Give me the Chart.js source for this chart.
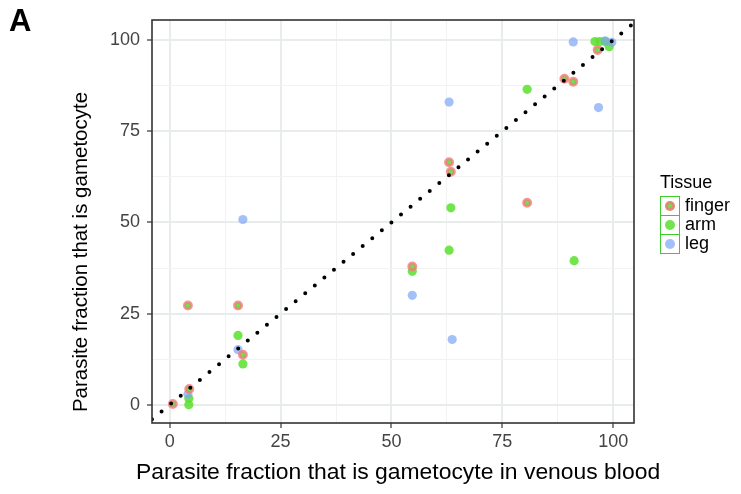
<!DOCTYPE html>
<html>
<head>
<meta charset="utf-8">
<script src="https://cdn.jsdelivr.net/npm/chart.js@4.4.1/dist/chart.umd.min.js"></script>
<style>
  body { margin: 0; background: #fff; }
  #wrap { position: relative; width: 741px; height: 494px; font-family: 'Liberation Sans', Arial, sans-serif; }
  #panel { position: absolute; left: 9px; top: 3px; font-weight: bold; font-size: 31px; }
  #legend { position: absolute; left: 660px; top: 172px; font-size: 18px; color: #000; }
  #legend .row { display: flex; align-items: center; height: 19px; }
  #legend .key { width: 18px; height: 18px; border: 1px solid #3ccc2c; margin-right: 5px; position: relative; }
  #legend .dot { position: absolute; left: 4px; top: 4px; width: 10px; height: 10px; border-radius: 50%; box-sizing: border-box; }
</style>
</head>
<body>
<div id="wrap">
  <canvas id="c" width="741" height="494"></canvas>
  <div id="panel">A</div>
  <div id="legend">
    <div style="margin-bottom:3px">Tissue</div>
    <div class="row"><div class="key"><div class="dot" style="background:#6fe14a;border:3px solid rgba(246,120,125,0.8)"></div></div>finger</div>
    <div class="row"><div class="key"><div class="dot" style="background:rgba(90,225,45,0.85)"></div></div>arm</div>
    <div class="row"><div class="key"><div class="dot" style="background:rgba(125,165,245,0.7)"></div></div>leg</div>
  </div>
</div>
<script>
// venous fraction (x) vs tissue fraction (y)
const fingerX = [0.7, 4.1, 4.4, 15.4, 16.5, 54.7, 63.0, 63.4, 80.6, 89.0, 91.0, 96.5];
const fingerY = [0.2, 27.2, 4.3, 27.2, 13.7, 37.9, 66.5, 63.9, 55.4, 89.4, 88.6, 97.3];

const armX = [4.3, 4.3, 15.4, 16.5, 54.7, 63.0, 63.4, 80.6, 91.2, 95.9, 97.0, 98.2, 99.1];
const armY = [1.7, 0.0, 19.0, 11.2, 36.6, 42.4, 54.0, 86.5, 39.5, 99.6, 99.6, 99.6, 98.2];

const legX = [4.1, 15.4, 16.5, 54.7, 63.0, 63.7, 91.0, 96.7, 98.2, 99.7];
const legY = [2.9, 15.1, 50.8, 30.0, 83.0, 17.9, 99.5, 81.5, 99.8, 99.4];

const tickValues = [0, 25, 50, 75, 100];
const identity = [-4, 110];

const xTitle = 'Parasite fraction that is gametocyte in venous blood';
const yTitle = 'Parasite fraction that is gametocyte';

const toPoints = (xs, ys) => xs.map((x, i) => ({ x, y: ys[i] }));
const isMajor = v => tickValues.includes(v);

const gridOpts = {
  color: ctx => isMajor(ctx.tick.value) ? '#e8ecec' : '#f1f3f3',
  lineWidth: ctx => isMajor(ctx.tick.value) ? 2 : 1,
  tickColor: ctx => isMajor(ctx.tick.value) ? '#333' : 'rgba(0,0,0,0)',
  tickLength: 5,
  tickWidth: 1.2
};
const tickFont = { family: "'Liberation Sans', Arial, sans-serif", size: 18 };

// full panel border + axis titles placed like the original
const panelExtras = {
  id: 'panelExtras',
  afterDraw(chart) {
    const { ctx, chartArea: a } = chart;
    ctx.save();
    ctx.strokeStyle = '#333';
    ctx.lineWidth = 1.6;
    ctx.strokeRect(a.left, a.top, a.right - a.left, a.bottom - a.top);

    ctx.fillStyle = '#000';
    ctx.textAlign = 'center';
    ctx.textBaseline = 'middle';
    ctx.font = "22.9px 'Liberation Sans', Arial, sans-serif";
    ctx.fillText(xTitle, 398, 473);

    ctx.font = "20.5px 'Liberation Sans', Arial, sans-serif";
    ctx.translate(81, 252);
    ctx.rotate(-Math.PI / 2);
    ctx.fillText(yTitle, 0, 0);
    ctx.restore();
  }
};

new Chart(document.getElementById('c'), {
  type: 'scatter',
  data: {
    datasets: [
      {
        type: 'line',
        data: identity.map(v => ({ x: v, y: v })),
        borderColor: '#000',
        borderWidth: 4,
        borderDash: [0, 12.4],
        borderCapStyle: 'round',
        pointRadius: 0,
        fill: false,
        order: 0
      },
      {
        label: 'finger',
        data: toPoints(fingerX, fingerY),
        pointRadius: 3.5,
        pointBorderWidth: 3,
        pointBorderColor: 'rgba(246,120,125,0.78)',
        pointBackgroundColor: '#6fe14a',
        order: 1
      },
      {
        label: 'leg',
        data: toPoints(legX, legY),
        pointRadius: 4.6,
        pointBorderWidth: 0,
        pointBackgroundColor: 'rgba(125,165,245,0.7)',
        order: 2
      },
      {
        label: 'arm',
        data: toPoints(armX, armY),
        pointRadius: 4.6,
        pointBorderWidth: 0,
        pointBackgroundColor: 'rgba(90,225,45,0.85)',
        order: 3
      }
    ]
  },
  options: {
    responsive: false,
    animation: false,
    layout: { padding: { left: 0, right: 107, top: 20, bottom: 0 } },
    plugins: { legend: { display: false }, tooltip: { enabled: false } },
    scales: {
      x: {
        type: 'linear',
        min: -4,
        max: 104.7,
        afterFit: s => { s.height = 71; },
        border: { display: false },
        grid: gridOpts,
        ticks: {
          stepSize: 12.5,
          includeBounds: false,
          autoSkip: false,
          maxRotation: 0,
          padding: 3,
          color: '#444',
          font: tickFont,
          callback: v => isMajor(v) ? String(v) : ''
        }
      },
      y: {
        type: 'linear',
        min: -5,
        max: 105.5,
        afterFit: s => { s.width = 152; },
        border: { display: false },
        grid: gridOpts,
        ticks: {
          stepSize: 12.5,
          includeBounds: false,
          autoSkip: false,
          padding: 7,
          color: '#444',
          font: tickFont,
          callback: v => isMajor(v) ? String(v) : ''
        }
      }
    }
  },
  plugins: [panelExtras]
});
</script>
</body>
</html>
